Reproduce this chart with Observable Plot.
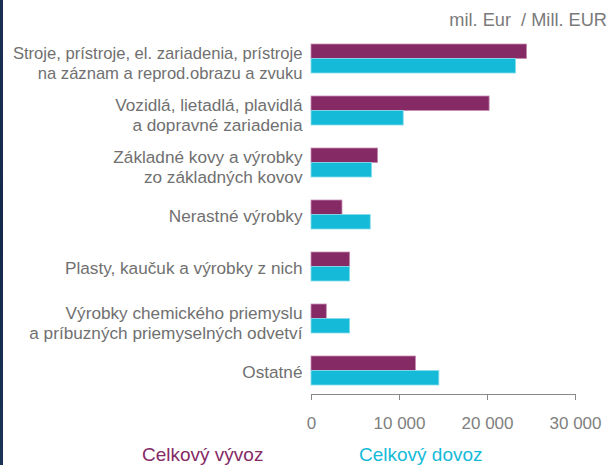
<!DOCTYPE html>
<html>
<head>
<meta charset="utf-8">
<script src="https://cdn.jsdelivr.net/npm/d3@7"></script>
<script src="https://cdn.jsdelivr.net/npm/@observablehq/plot@0.6"></script>
<style>
  html, body { margin: 0; padding: 0; background: #fff; }
  body { position: relative; width: 611px; height: 465px; overflow: hidden; font-family: "Liberation Sans", Arial, sans-serif; }
  #strip { position: absolute; left: 0; top: 0; width: 3px; height: 465px; background: linear-gradient(#1a2f52, #14284a 50%, #1b3356); }
  #unit { position: absolute; right: 4px; top: 10px; font-size: 18.2px; color: #7a7a7a; white-space: pre; line-height: normal; }
  #legend { position: relative; height: 21px; font-size: 19px; line-height: normal; }
  #legend span { position: absolute; top: 0; white-space: nowrap; }
</style>
</head>
<body>
<div id="strip"></div>
<div id="chart"></div>
<div id="legend"></div>
<div id="unit"></div>
<script>
const categories = [
  "Stroje, prístroje, el. zariadenia, prístroje\nna záznam a reprod.obrazu a zvuku",
  "Vozidlá, lietadlá, plavidlá\na dopravné zariadenia",
  "Základné kovy a výrobky\nzo základných kovov",
  "Nerastné výrobky",
  "Plasty, kaučuk a výrobky z nich",
  "Výrobky chemického priemyslu\na príbuzných priemyselných odvetví",
  "Ostatné"
];
const exportValues = [24500, 20240, 7570, 3520, 4390, 1740, 11880];
const importValues = [23250, 10480, 6890, 6730, 4390, 4390, 14530];
const seriesNames = ["Celkový vývoz", "Celkový dovoz"];
const seriesColors = ["#862a66", "#15bad8"];
const xTicks = [0, 10000, 20000, 30000];
const unitLabel = "mil. Eur  / Mill. EUR";

const exportData = categories.map((c, i) => ({category: c, value: exportValues[i]}));
const importData = categories.map((c, i) => ({category: c, value: importValues[i]}));
const singleLine = categories.filter(c => !c.includes("\n"));
const multiLine = categories.filter(c => c.includes("\n"));

const fmt = d => d3.format(",")(d).replace(/,/g, " ");

const chart = Plot.plot({
  width: 611,
  height: 444,
  marginLeft: 311,
  marginRight: 36,
  marginTop: 35,
  marginBottom: 50,
  style: { fontFamily: "Liberation Sans, Arial, sans-serif", fontSize: "17.2px", color: "#757575", background: "transparent" },
  x: { domain: [0, 30000], ticks: xTicks, tickFormat: fmt },
  y: { domain: categories, paddingInner: 0.45, paddingOuter: 0.13 },
  marks: [
    Plot.barX(exportData, { x: "value", y: "category", fill: seriesColors[0], stroke: "#c58db2", strokeWidth: 0.8, insetBottom: 14.5 }),
    Plot.barX(importData, { x: "value", y: "category", fill: seriesColors[1], stroke: "#86dcec", strokeWidth: 0.8, insetTop: 14.5 }),
    Plot.axisY({ ticks: singleLine, tickSize: 0, tickPadding: 9, label: null, dy: 1, fill: "#707070", fontSize: 17.2 }),
    Plot.axisY({ ticks: multiLine, tickSize: 0, tickPadding: 9, label: null, lineHeight: 1.2, dy: 3.5, fill: "#707070",
                 fontSize: d => d === categories[0] ? 16.6 : 17.2 }),
    Plot.axisX({ ticks: xTicks, tickFormat: fmt, tickSize: 6, tickPadding: 16, label: null, stroke: "#888", fill: "#808080", fontSize: 17 }),
    Plot.frame({ anchor: "bottom", stroke: "#888" })
  ]
});
document.getElementById("chart").appendChild(chart);

document.getElementById("unit").textContent = unitLabel;
const legend = document.getElementById("legend");
[142, 359].forEach((left, i) => {
  const s = document.createElement("span");
  s.textContent = seriesNames[i];
  s.style.left = left + "px";
  s.style.color = seriesColors[i];
  legend.appendChild(s);
});
</script>
</body>
</html>
